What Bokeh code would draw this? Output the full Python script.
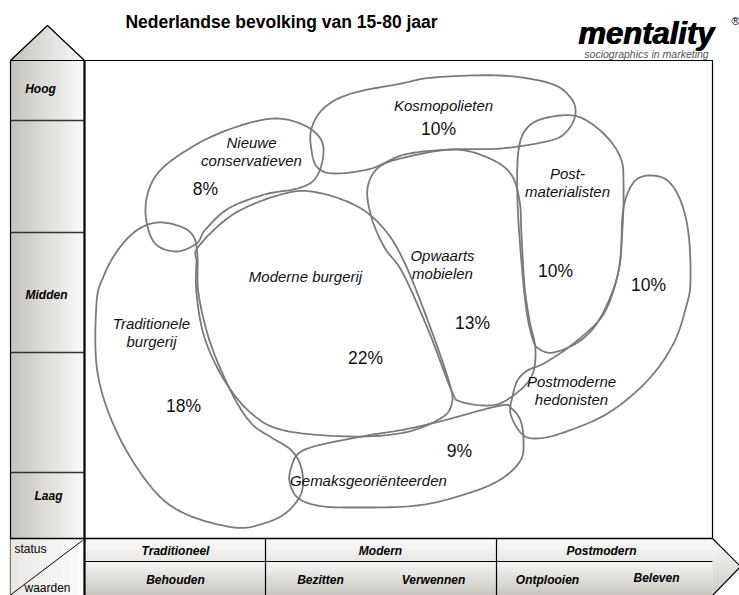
import numpy as np
from bokeh.plotting import figure
from bokeh.models import Range1d
from bokeh.embed import file_html
from bokeh.resources import INLINE
from bokeh.core.properties import value

# ---------------- data ----------------
title_text = "Nederlandse bevolking van 15-80 jaar"
logo_text = "mentality"
logo_sub = "sociographics in marketing"
status_levels = ["Hoog", "Midden", "Laag"]
value_groups = ["Traditioneel", "Modern", "Postmodern"]
value_sub = ["Behouden", "Bezitten", "Verwennen", "Ontplooien", "Beleven"]

segment_names = ["Kosmopolieten", "Nieuwe\nconservatieven", "Post-\nmaterialisten",
                 "Opwaarts\nmobielen", "Moderne burgerij", "Traditionele\nburgerij",
                 "Postmoderne\nhedonisten", "Gemaksgeoriënteerden"]
segment_shares = ["10%", "8%", "10%", "13%", "22%", "18%", "10%", "9%"]

# outlines of the segment blobs (diagram coordinates, control points)
kosmopolieten = [(311, 128), (324, 107), (351, 93), (401, 83), (433, 77), (500, 75), (550, 83),
                 (570, 97), (575, 113), (567, 130), (550, 140), (500, 148), (450, 149), (404, 154),
                 (371, 168), (334, 173), (317, 167), (311, 150)]
nieuwe_cons = [(145, 207), (157, 173), (194, 145), (234, 127), (274, 118), (304, 125), (321, 140),
               (322, 160), (314, 179), (297, 188), (264, 194), (228, 208), (205, 229), (196, 243),
               (175, 251), (153, 241)]
postmaterialisten = [(518, 150), (527, 127), (547, 117), (577, 116), (603, 133), (620, 157),
                     (623, 182), (622, 227), (617, 275), (600, 317), (580, 340), (553, 352),
                     (538, 348), (532, 338), (526, 310), (521, 262), (517, 200)]
opwaarts = [(404, 157), (453, 149), (487, 157), (510, 173), (519, 200), (521, 235), (524, 285),
            (529, 320), (535, 350), (530, 378), (507, 399), (488, 405), (460, 401), (451, 390),
            (428, 330), (402, 272), (384, 247), (371, 217), (367, 188), (378, 167)]
moderne = [(198, 246), (234, 213), (284, 193), (317, 192), (357, 206), (384, 229), (404, 262),
           (428, 322), (449, 383), (451, 404), (440, 418), (404, 432), (351, 436), (284, 430),
           (251, 413), (224, 380), (204, 337), (196, 293), (196, 262)]
traditionele = [(96, 303), (97, 372), (117, 433), (151, 487), (184, 513), (234, 527), (263, 523),
                (286, 512), (301, 492), (301, 468), (291, 450), (271, 437), (251, 423), (232, 394),
                (210, 343), (198, 293), (197, 256), (193, 236), (180, 226), (157, 222), (136, 230),
                (117, 250), (103, 276)]
postmoderne = [(627, 193), (636, 179), (650, 175), (667, 180), (680, 200), (688, 233), (690, 280),
               (686, 305), (673, 343), (647, 380), (607, 413), (560, 433), (533, 438), (520, 432),
               (510, 413), (512, 396), (517, 380), (527, 370), (545, 362), (573, 343), (600, 318),
               (613, 290), (620, 258), (622, 215)]
gemaks = [(291, 466), (298, 453), (317, 445), (367, 435), (404, 429), (443, 420), (500, 405),
          (511, 408), (520, 420), (523, 440), (520, 460), (500, 479), (467, 493), (417, 505),
          (351, 507), (317, 505), (297, 497), (289, 481)]

blobs = [kosmopolieten, nieuwe_cons, postmaterialisten, opwaarts, moderne, traditionele,
         postmoderne, gemaks]

name_pos = [(443, 105), (251, 151), (567, 182), (442, 264), (305, 276), (151, 332), (571, 390),
            (368, 480)]
share_pos = [(438, 128), (205, 188), (555, 270), (472, 322), (365, 357), (183, 405), (648, 284),
             (459, 450)]

# ---------------- helpers ----------------
def catmull_closed(pts, n=14):
    P = np.array(pts, dtype=float)
    m = len(P)
    out = []
    for i in range(m):
        p0, p1, p2, p3 = P[(i - 1) % m], P[i], P[(i + 1) % m], P[(i + 2) % m]
        for t in np.linspace(0, 1, n, endpoint=False):
            t2, t3 = t * t, t * t * t
            pt = 0.5 * ((2 * p1) + (-p0 + p2) * t + (2 * p0 - 5 * p1 + 4 * p2 - p3) * t2 +
                        (-p0 + 3 * p1 - 3 * p2 + p3) * t3)
            out.append(pt)
    out.append(out[0])
    out = np.array(out)
    return out[:, 0], out[:, 1]


def mix(c0, c1, f):
    return "#%02x%02x%02x" % tuple(int(round(a + (b - a) * f)) for a, b in zip(c0, c1))


W, H = 739, 595
p = figure(width=W, height=H, x_range=Range1d(0, W), y_range=Range1d(H, 0),
           output_backend="svg", toolbar_location=None, min_border=0)
p.axis.visible = False
p.grid.visible = False
p.outline_line_color = None
p.background_fill_color = "white"
p.border_fill_color = "white"

FONT = value("Liberation Sans")
DARK = (196, 193, 187)
LIGHT = (250, 250, 249)


def hgrad(x0, x1, y0, y1, c0, c1, n=24):
    xs = np.linspace(x0, x1, n + 1)
    cols = [mix(c0, c1, (i + 0.5) / n) for i in range(n)]
    p.quad(left=xs[:-1], right=xs[1:] + 0.4, top=[y0] * n, bottom=[y1] * n,
           fill_color=cols, line_color=None)


def vgrad(x0, x1, y0, y1, c0, c1, n=16):
    ys = np.linspace(y0, y1, n + 1)
    cols = [mix(c0, c1, (i + 0.5) / n) for i in range(n)]
    p.quad(left=[x0] * n, right=[x1] * n, top=ys[:-1], bottom=ys[1:] + 0.4,
           fill_color=cols, line_color=None)


# ---- left column (status) ----
col_x0, col_x1 = 10, 84
row_edges = [60, 120, 232, 352, 472, 538]
hgrad(col_x0, col_x1, 60, 538, DARK, LIGHT)
# top arrow with gradient
ax, ay, by = 47, 25, 60
n = 20
xs_e = np.linspace(col_x0, col_x1, n + 1)


def ytop(x):
    return by - (x - col_x0) / (ax - col_x0) * (by - ay) if x <= ax else ay + (x - ax) / (col_x1 - ax) * (by - ay)


pxs, pys, pcols = [], [], []
for i in range(n):
    a, b = xs_e[i], xs_e[i + 1] + 0.4
    b = min(b, col_x1)
    pxs.append([a, b, b, a])
    pys.append([ytop(a), ytop(b), by, by])
    pcols.append(mix(DARK, LIGHT, (i + 0.5) / n))
p.patches(pxs, pys, fill_color=pcols, line_color=None)
p.line([col_x0, ax, col_x1], [by, ay, by], line_color="black", line_width=1.3)

for y in row_edges[1:-1]:
    p.line([col_x0, col_x1], [y, y], line_color="#333333", line_width=1.3)
p.line([col_x0, col_x0], [60, 595], line_color="black", line_width=1.2)
p.line([col_x0, col_x1], [60, 60], line_color="black", line_width=1.2)

status_y = [88, 294, 495]
p.text(x=[40, 46, 48], y=status_y, text=status_levels, text_font=FONT, text_font_size="12px",
       text_font_style="bold italic", text_align="center", text_baseline="middle", text_color="black")

# ---- bottom bands (values) ----
bx0, bx1 = 84, 712
row1 = (538, 561)
row2 = (561, 595)
vgrad(bx0, bx1, row1[0], row1[1], (250, 250, 249), (232, 231, 228), n=8)
vgrad(bx0, bx1, row2[0], row2[1], (246, 246, 244), (200, 197, 191), n=14)
# status/waarden cell
hgrad(col_x0, col_x1, 538, 595, (232, 231, 228), (252, 252, 252), n=10)
# right arrow
tx0, ty0, tax, tay, ty1 = 712, 538, 740, 566, 595


def xr(y):
    return tx0 + (y - ty0) / (tay - ty0) * (tax - tx0) if y <= tay else tax - (y - tay) / (ty1 - tay) * (tax - tx0)


m = 18
ys_e = np.linspace(ty0, ty1, m + 1)
axs, ays, acols = [], [], []
for i in range(m):
    a, b = ys_e[i], min(ys_e[i + 1] + 0.4, ty1)
    if a < tay < b:
        axs.append([tx0, xr(a), tax, xr(b), tx0])
        ays.append([a, a, tay, b, b])
    else:
        axs.append([tx0, xr(a), xr(b), tx0])
        ays.append([a, a, b, b])
    acols.append(mix((250, 250, 249), (205, 202, 196), (i + 0.5) / m))
p.patches(axs, ays, fill_color=acols, line_color=None)
p.line([tx0, tax, tx0], [ty0, tay, ty1], line_color="black", line_width=1.2)

# band lines
p.line([col_x0, tx0], [538, 538], line_color="black", line_width=1.4)
p.line([bx0, bx1], [561, 561], line_color="black", line_width=1.2)
for x in [265, 496]:
    p.line([x, x], [538, 595], line_color="black", line_width=1.2)
p.line([82, 8], [540, 596], line_color="black", line_width=1.0)

p.text(x=[175, 380, 601], y=[550, 550, 550], text=value_groups, text_font=FONT, text_font_size="12px",
       text_font_style="bold italic", text_align="center", text_baseline="middle", text_color="black")
p.text(x=[175, 320, 433, 547, 656], y=[579, 579, 579, 579, 577], text=value_sub, text_font=FONT,
       text_font_size="12px", text_font_style="bold italic", text_align="center", text_baseline="middle",
       text_color="black")
p.text(x=[30, 47], y=[548, 587], text=["status", "waarden"], text_font=FONT, text_font_size="12px",
       text_align="center", text_baseline="middle", text_color="black")

# ---- main box ----
p.line([84, 712, 712], [60, 60, 538], line_color="black", line_width=1.2)
p.line([84, 84], [60, 595], line_color="black", line_width=2.2)

# ---- blobs ----
for pts in blobs:
    bxs, bys = catmull_closed(pts)
    p.line(bxs, bys, line_color="#7a7a7a", line_width=1.8)

# ---- labels ----
for name, (x, y) in zip(segment_names, name_pos):
    lines = name.split("\n")
    if len(lines) == 1:
        ys_l = [y]
    else:
        ys_l = [y - 9, y + 9]
    p.text(x=[x] * len(lines), y=ys_l, text=lines, text_font=FONT, text_font_size="15px",
           text_font_style="italic", text_align="center", text_baseline="middle", text_color="#111111")
p.text(x=[q[0] for q in share_pos], y=[q[1] for q in share_pos], text=segment_shares, text_font=FONT,
       text_font_size="17.5px", text_align="center", text_baseline="middle", text_color="#111111")

# ---- title and logo ----
p.text(x=[281], y=[21], text=[title_text], text_font=FONT, text_font_size="17.5px",
       text_font_style="bold", text_align="center", text_baseline="middle", text_color="black")
p.text(x=[645.5, 646.5], y=[33, 33], text=[logo_text, logo_text], text_font=FONT, text_font_size="31px",
       text_font_style="bold italic", text_align="center", text_baseline="middle", text_color="black")
p.text(x=[646], y=[53], text=[logo_sub], text_font=FONT, text_font_size="10.5px",
       text_font_style="italic", text_align="center", text_baseline="middle", text_color="#555555")
p.text(x=[739], y=[20], text=["®"], text_font=FONT, text_font_size="11px",
       text_align="right", text_baseline="middle", text_color="black")

open("out.html", "w").write(file_html(p, INLINE))
